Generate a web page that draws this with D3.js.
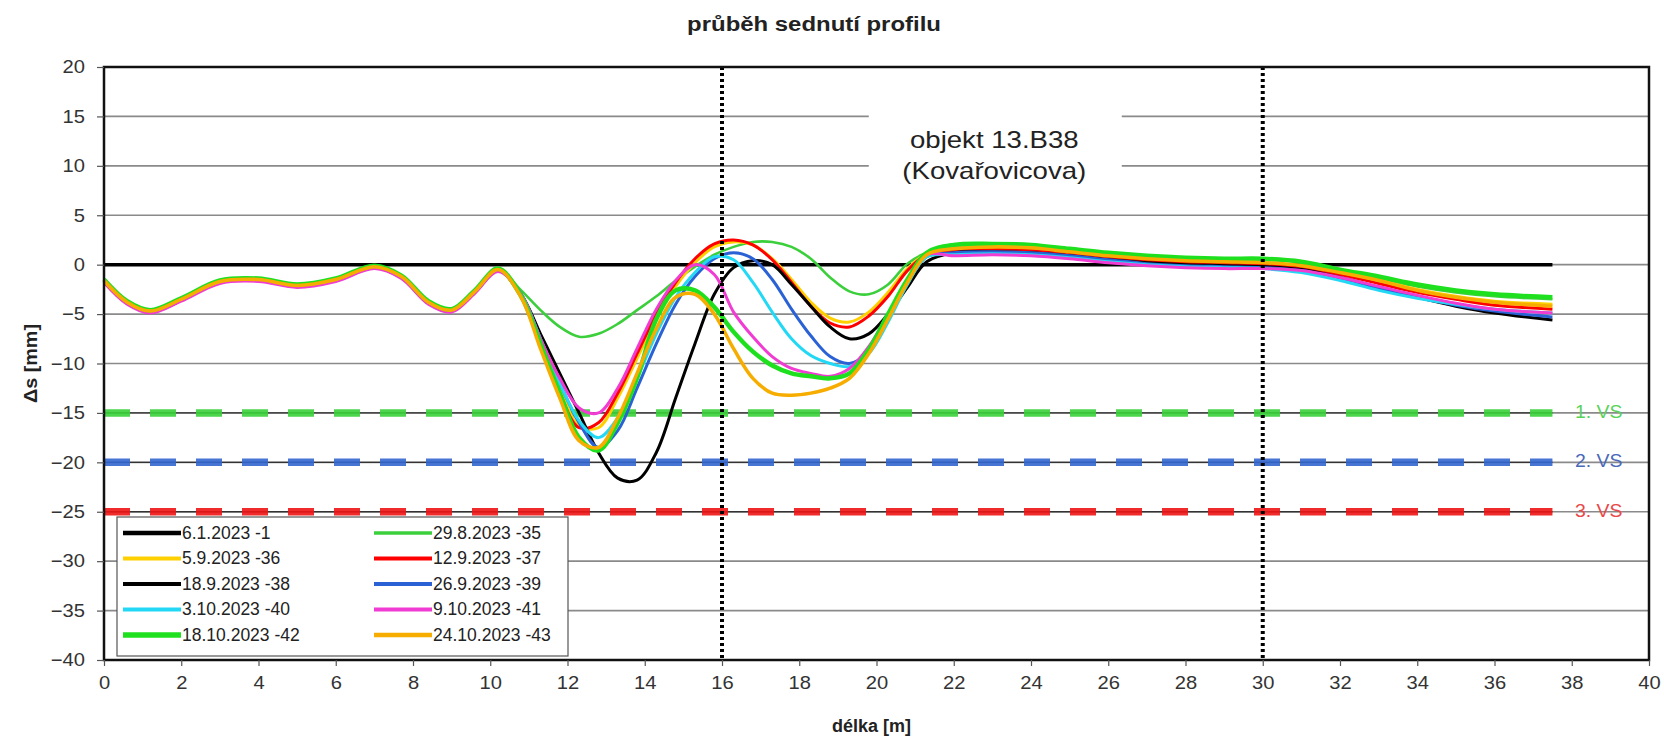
<!DOCTYPE html>
<html>
<head>
<meta charset="utf-8">
<script src="https://cdn.jsdelivr.net/npm/d3@7"></script>
<style>
  html, body { margin: 0; background: #fff; }
  svg { display: block; font-family: Arial, "Liberation Sans", sans-serif; }
</style>
</head>
<body>
<svg id="chart" width="1664" height="741"></svg>
<script>
// distance along the profile [m]
const distances = [0, 0.6, 1.2, 2, 3, 4, 5, 6, 7, 7.7, 8.4, 9, 9.6, 10.2,
  10.8, 11.3, 11.8, 12.3, 12.8, 13.3, 13.8, 14.3, 14.8, 15.3, 15.8, 16.3, 16.8, 17.3,
  17.8, 18.3, 18.8, 19.3, 19.8, 20.3, 20.8, 21.3,
  22, 23, 24, 25, 26, 27, 28, 29, 30, 31, 32, 33, 34, 35, 36, 37.5];

const seriesNames = ["6.1.2023 -1", "29.8.2023 -35", "5.9.2023 -36", "12.9.2023 -37",
  "18.9.2023 -38", "26.9.2023 -39", "3.10.2023 -40", "9.10.2023 -41",
  "18.10.2023 -42", "24.10.2023 -43"];

// settlement [mm] for each measurement
const m01 = distances.map(() => 0);
const m35 = [-1.6, -3.8, -4.7, -3.5, -1.7, -1.5, -2.1, -1.5, -0.2, -1.2, -3.8, -4.6, -2.7, -0.5,
  -2.6, -4.6, -6.3, -7.3, -7.0, -6.0, -4.6, -3.2, -1.6, -0.2, 1.0, 1.8, 2.3, 2.3,
  1.8, 0.6, -1.3, -2.7, -3.0, -2.0, 0.1, 1.2,
  1.8, 2.0, 1.9, 1.5, 1.1, 0.8, 0.6, 0.5, 0.5, 0.2, -0.6, -1.4, -2.2, -2.8, -3.2, -3.5];
const m36 = [-1.7, -3.9, -4.8, -3.6, -1.8, -1.6, -2.2, -1.6, -0.3, -1.3, -3.9, -4.7, -2.8, -0.6,
  -3.0, -7.5, -12.5, -16.3, -16.5, -13.5, -9.5, -5.5, -2.2, 0.2, 1.8, 2.3, 2.0, 0.6,
  -1.5, -3.8, -5.4, -5.8, -4.8, -2.8, -0.4, 1.1,
  1.6, 1.7, 1.6, 1.3, 0.9, 0.6, 0.4, 0.3, 0.2, -0.1, -0.8, -1.6, -2.5, -3.2, -3.7, -4.0];
const m37 = [-1.7, -3.9, -4.8, -3.6, -1.8, -1.6, -2.2, -1.6, -0.3, -1.3, -3.9, -4.7, -2.8, -0.6,
  -3.2, -8.0, -13.0, -16.5, -16.0, -13.0, -9.0, -5.0, -1.8, 0.6, 2.1, 2.5, 2.0, 0.5,
  -1.8, -4.2, -5.9, -6.3, -5.2, -3.2, -0.6, 1.0,
  1.4, 1.5, 1.4, 1.1, 0.7, 0.4, 0.2, 0.1, 0.0, -0.3, -1.0, -1.9, -2.8, -3.5, -4.1, -4.5];
const m38 = [-1.7, -3.9, -4.8, -3.6, -1.8, -1.6, -2.2, -1.6, -0.3, -1.3, -3.9, -4.7, -2.8, -0.6,
  -3.0, -7.0, -11.0, -15.0, -19.0, -21.6, -21.8, -19.0, -13.5, -8.0, -3.0, -0.3, 0.4, 0.0,
  -2.0, -4.2, -6.3, -7.5, -7.0, -5.0, -2.3, 0.3,
  1.2, 1.3, 1.2, 0.9, 0.5, 0.2, 0.0, -0.1, -0.2, -0.5, -1.3, -2.3, -3.3, -4.2, -4.9, -5.6];
const m39 = [-1.7, -3.9, -4.8, -3.6, -1.8, -1.6, -2.2, -1.6, -0.3, -1.3, -3.9, -4.7, -2.8, -0.6,
  -3.0, -7.5, -12.0, -16.0, -18.5, -16.8, -12.5, -8.0, -4.0, -1.2, 0.6, 1.2, 0.6, -1.5,
  -4.5, -7.2, -9.3, -10.0, -8.8, -5.5, -1.8, 0.8,
  1.2, 1.3, 1.2, 0.9, 0.5, 0.1, -0.1, -0.2, -0.3, -0.6, -1.4, -2.4, -3.3, -4.1, -4.7, -5.3];
const m40 = [-1.7, -3.9, -4.8, -3.6, -1.8, -1.6, -2.2, -1.6, -0.3, -1.3, -3.9, -4.7, -2.8, -0.6,
  -3.0, -7.5, -12.0, -15.8, -17.5, -15.5, -11.5, -7.0, -3.3, -0.8, 0.8, 0.5, -1.8, -4.8,
  -7.5, -9.2, -10.0, -10.3, -9.0, -5.8, -2.0, 0.8,
  1.0, 1.1, 1.0, 0.7, 0.3, 0.0, -0.2, -0.3, -0.4, -0.8, -1.6, -2.6, -3.4, -4.0, -4.5, -4.9];
const m41 = [-1.8, -4.0, -4.9, -3.7, -1.9, -1.7, -2.3, -1.7, -0.4, -1.4, -4.0, -4.8, -2.9, -0.7,
  -3.0, -7.5, -11.5, -14.5, -15.0, -12.5, -8.5, -4.5, -1.6, 0.0, -1.0, -4.8, -7.3, -9.3,
  -10.5, -11.0, -11.3, -10.5, -8.3, -5.0, -1.5, 1.0,
  0.9, 1.0, 0.9, 0.6, 0.2, -0.1, -0.3, -0.4, -0.4, -0.6, -1.3, -2.2, -3.1, -3.9, -4.5, -4.9];
const m42 = [-1.5, -3.7, -4.6, -3.4, -1.6, -1.4, -2.0, -1.4, -0.1, -1.1, -3.7, -4.5, -2.6, -0.4,
  -3.2, -8.0, -13.0, -17.5, -18.8, -16.0, -11.5, -5.5, -2.6, -2.6, -4.3, -6.8, -8.8, -10.2,
  -11.0, -11.3, -11.5, -11.0, -8.6, -5.0, -1.5, 1.2,
  2.0, 2.1, 2.0, 1.6, 1.2, 0.9, 0.7, 0.6, 0.6, 0.3, -0.5, -1.2, -2.0, -2.6, -3.0, -3.3];
const m43 = [-1.6, -3.8, -4.7, -3.5, -1.7, -1.5, -2.1, -1.5, -0.2, -1.2, -3.8, -4.6, -2.7, -0.5,
  -3.3, -8.5, -13.5, -17.8, -18.5, -15.5, -11.0, -6.5, -3.3, -3.0, -5.0, -8.5, -11.5, -13.0,
  -13.2, -13.0, -12.5, -11.5, -9.0, -5.5, -1.8, 1.0,
  1.6, 1.8, 1.7, 1.3, 0.9, 0.6, 0.4, 0.3, 0.2, -0.1, -0.8, -1.6, -2.6, -3.3, -3.8, -4.2];
const seriesValues = [m01, m35, m36, m37, m38, m39, m40, m41, m42, m43];

// alarm limits (varovné stavy) [mm]
const limitValues = [-15, -20, -25];
const limitLabels = ["1. VS", "2. VS", "3. VS"];
const limitEnd = 37.5;

// object boundaries [m]
const boundaryPositions = [16, 30];

const yTickValues = d3.range(-40, 21, 5);
const xTickValues = d3.range(0, 41, 2);

const titleText = "průběh sednutí profilu";
const xAxisTitle = "délka [m]";
const yAxisTitle = "Δs [mm]";
const noteLines = ["objekt 13.B38", "(Kovařovicova)"];

// ---- styling ----
const seriesColors = ["#000000", "#3ccf3c", "#ffd000", "#ff0000", "#000000",
  "#2a62d6", "#22d8f5", "#f03cd2", "#1ee01e", "#f7ad00"];
const seriesWidths = [3.5, 2.6, 3, 3, 3, 3, 3, 3, 4.5, 3.5];
const limitColors = ["#3ad23a", "#3467d0", "#ee1515"];
const limitLabelColors = ["#5ad25a", "#4a68b8", "#e84848"];
const textStretch = 1.12;   // the lettering is set slightly wide

const svg = d3.select("#chart");
const plot = { left: 104, top: 67, right: 1649, bottom: 660 };

const x = d3.scaleLinear().domain([0, 40]).range([plot.left, plot.right]);
const y = d3.scaleLinear().domain([-40, 20]).range([plot.bottom, plot.top]);

// places a horizontally widened text at (px, py)
function wideText(parent, px, py, str, opts) {
  const o = Object.assign({ size: 17, weight: "normal", anchor: "start", fill: "#222", stretch: textStretch }, opts);
  return parent.append("text")
    .attr("transform", `translate(${px},${py}) scale(${o.stretch},1)`)
    .attr("text-anchor", o.anchor)
    .attr("dominant-baseline", "middle")
    .attr("font-size", o.size)
    .attr("font-weight", o.weight)
    .attr("fill", o.fill)
    .text(str);
}

// horizontal grid
svg.append("g")
  .selectAll("line")
  .data(yTickValues.filter(v => v > -40 && v < 20))
  .join("line")
  .attr("x1", plot.left).attr("x2", plot.right)
  .attr("y1", d => y(d)).attr("y2", d => y(d))
  .attr("stroke", "#8a8a8a").attr("stroke-width", 1.6);

// note box with text, interrupting the grid
const noteBox = { x0: 19.8, x1: 26.35, y0: 16.6, y1: 8.1 };
svg.append("rect")
  .attr("x", x(noteBox.x0)).attr("y", y(noteBox.y0))
  .attr("width", x(noteBox.x1) - x(noteBox.x0))
  .attr("height", y(noteBox.y1) - y(noteBox.y0))
  .attr("fill", "#fff");
const noteG = svg.append("g");
noteLines.forEach((t, i) => {
  wideText(noteG, x(23.05), y(12.4 - i * 3.1), t, { size: 23, anchor: "middle", stretch: 1.2 });
});

// alarm limit lines: thin dark line with thick coloured dashes
const limits = svg.append("g");
limitValues.forEach((v, i) => {
  limits.append("line")
    .attr("x1", x(0)).attr("x2", x(limitEnd))
    .attr("y1", y(v)).attr("y2", y(v))
    .attr("stroke", "#333").attr("stroke-width", 1.3);
  limits.append("line")
    .attr("x1", x(0)).attr("x2", x(limitEnd))
    .attr("y1", y(v)).attr("y2", y(v))
    .attr("stroke", limitColors[i]).attr("stroke-width", 7.5)
    .attr("stroke-dasharray", "26 20")
    .attr("opacity", 0.9);
  wideText(limits, 1575, y(v), limitLabels[i], { size: 18, fill: limitLabelColors[i], stretch: 1.08 });
});

// measurement lines
const line = d3.line()
  .x((d, i) => x(distances[i]))
  .y(d => y(d))
  .curve(d3.curveCatmullRom.alpha(0.5));

svg.append("g")
  .attr("fill", "none")
  .selectAll("path")
  .data(seriesValues)
  .join("path")
  .attr("d", d => line(d))
  .attr("stroke", (d, i) => seriesColors[i])
  .attr("stroke-width", (d, i) => seriesWidths[i])
  .attr("stroke-linejoin", "round");

// object boundaries
svg.append("g")
  .selectAll("line")
  .data(boundaryPositions)
  .join("line")
  .attr("x1", d => x(d)).attr("x2", d => x(d))
  .attr("y1", plot.top).attr("y2", plot.bottom)
  .attr("stroke", "#000").attr("stroke-width", 4)
  .attr("stroke-dasharray", "3 3");

// plot frame
svg.append("rect")
  .attr("x", plot.left).attr("y", plot.top)
  .attr("width", plot.right - plot.left).attr("height", plot.bottom - plot.top)
  .attr("fill", "none").attr("stroke", "#111").attr("stroke-width", 2.5);

// axes
const yAxis = svg.append("g")
  .attr("transform", `translate(${plot.left},0)`)
  .call(d3.axisLeft(y).tickValues(yTickValues).tickSize(7).tickPadding(10));
const xAxis = svg.append("g")
  .attr("transform", `translate(0,${plot.bottom})`)
  .call(d3.axisBottom(x).tickValues(xTickValues).tickSize(6).tickPadding(10));
[xAxis, yAxis].forEach(g => {
  g.select(".domain").remove();
  g.selectAll(".tick line").attr("stroke", "#555").attr("stroke-width", 1.2);
  g.selectAll(".tick text").attr("font-size", 18).attr("fill", "#333")
    .attr("font-family", "Arial, 'Liberation Sans', sans-serif")
    .attr("transform", `scale(${textStretch},1)`);
});

// legend
const legend = svg.append("g");
legend.append("rect")
  .attr("x", 117).attr("y", 517).attr("width", 451).attr("height", 139)
  .attr("fill", "#fff").attr("stroke", "#555").attr("stroke-width", 1.2);
seriesNames.forEach((name, i) => {
  const col = i % 2, row = Math.floor(i / 2);
  const lx = 123 + col * 251, ly = 533 + row * 25.5;
  legend.append("line")
    .attr("x1", lx).attr("x2", lx + 58).attr("y1", ly).attr("y2", ly)
    .attr("stroke", seriesColors[i]).attr("stroke-width", seriesWidths[i] + 1);
  wideText(legend, lx + 59, ly + 1, name, { size: 17.5, stretch: 1.0 });
});

// titles
wideText(svg, 814, 25, titleText, { size: 21, weight: "bold", anchor: "middle", stretch: 1.14 });
wideText(svg, (plot.left + plot.right) / 2 - 5, 727, xAxisTitle, { size: 18, weight: "bold", anchor: "middle", stretch: 1.0 });
svg.append("text")
  .attr("transform", `translate(32,${(plot.top + plot.bottom) / 2}) rotate(-90) scale(1.1,1)`)
  .attr("text-anchor", "middle").attr("dominant-baseline", "middle")
  .attr("font-size", 18).attr("font-weight", "bold").attr("fill", "#222")
  .text(yAxisTitle);
</script>
</body>
</html>
